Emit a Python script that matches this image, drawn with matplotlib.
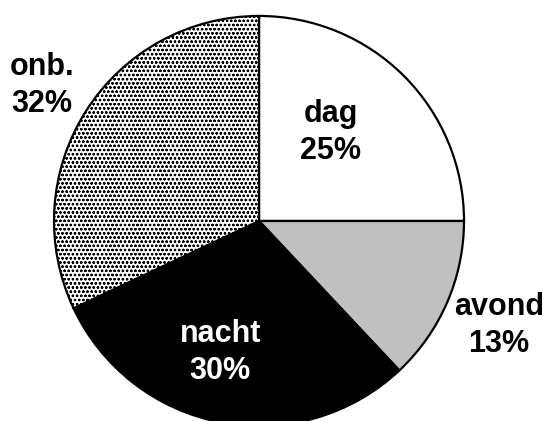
import matplotlib.pyplot as plt

labels = ['dag', 'avond', 'nacht', 'onb.']
shares = [25, 13, 30, 32]
colors = ['white', '#c0c0c0', 'black', 'white']
hatches = ['', '', '', 'oooo']
text_colors = ['black', 'black', 'white', 'black']
# label centres in axes data units
label_pos = [(0.35, 0.43), (1.17, -0.51), (-0.19, -0.64), (-1.06, 0.66)]

plt.rcParams['font.family'] = ['Liberation Sans', 'DejaVu Sans']
plt.rcParams['hatch.linewidth'] = 0.6

fig = plt.figure(figsize=(5.49, 4.21), dpi=100)
ax = fig.add_axes([0.0984, -0.0119, 0.7468, 0.974])

wedges, _ = ax.pie(shares, colors=colors, startangle=90, counterclock=False,
                   wedgeprops=dict(edgecolor='black', linewidth=1.6))
for w, h in zip(wedges, hatches):
    if h:
        w.set_hatch(h)

for lab, val, (x, y), c in zip(labels, shares, label_pos, text_colors):
    ax.text(x, y, f'{lab}\n{val}%', ha='center', va='center', fontsize=22,
            fontweight='bold', color=c, linespacing=1.3)

ax.set_xlim(-1, 1)
ax.set_ylim(-1, 1)
ax.set_aspect('auto')
ax.axis('off')

plt.savefig('out.png', dpi=100)
